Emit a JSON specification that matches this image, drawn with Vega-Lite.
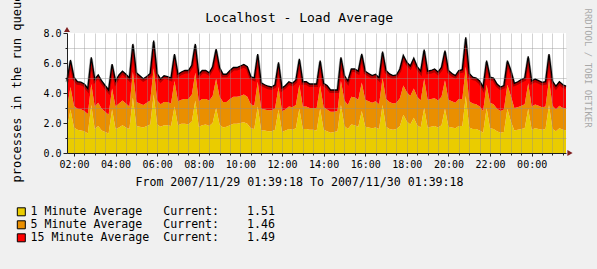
{
  "$schema": "https://vega.github.io/schema/vega-lite/v6.json",
  "width": 499,
  "height": 120,
  "autosize": {"type": "none"},
  "padding": {"left": 67, "top": 33, "right": 31, "bottom": 116},
  "background": "#F0F0F0",
  "config": {
    "view": {"fill": "#FFFFFF", "stroke": null},
    "font": "DejaVu Sans Mono",
    "axis": {"labelFont": "DejaVu Sans Mono", "titleFont": "DejaVu Sans Mono", "labelColor": "#000000", "titleColor": "#000000", "titleFontWeight": "normal"}
  },
  "data": {"values": [
    {"t":"2007-11-29T01:40","one":1.6,"five":1.4,"fifteen":1.82},
    {"t":"2007-11-29T01:50","one":2.9,"five":1.5,"fifteen":1.8},
    {"t":"2007-11-29T02:00","one":1.7,"five":1.45,"fifteen":1.9},
    {"t":"2007-11-29T02:10","one":1.55,"five":1.4,"fifteen":1.8},
    {"t":"2007-11-29T02:20","one":1.5,"five":1.42,"fifteen":1.8},
    {"t":"2007-11-29T02:30","one":1.45,"five":1.35,"fifteen":1.8},
    {"t":"2007-11-29T02:40","one":1.3,"five":1.3,"fifteen":1.7},
    {"t":"2007-11-29T02:50","one":3.2,"five":1.4,"fifteen":1.78},
    {"t":"2007-11-29T03:00","one":1.6,"five":1.5,"fifteen":1.82},
    {"t":"2007-11-29T03:10","one":1.8,"five":1.55,"fifteen":1.85},
    {"t":"2007-11-29T03:20","one":1.5,"five":1.45,"fifteen":1.85},
    {"t":"2007-11-29T03:30","one":1.4,"five":1.35,"fifteen":1.75},
    {"t":"2007-11-29T03:40","one":1.3,"five":1.25,"fifteen":1.65},
    {"t":"2007-11-29T03:50","one":2.9,"five":1.4,"fifteen":1.63},
    {"t":"2007-11-29T04:00","one":1.6,"five":1.5,"fifteen":1.7},
    {"t":"2007-11-29T04:10","one":1.7,"five":1.6,"fifteen":1.9},
    {"t":"2007-11-29T04:20","one":1.85,"five":1.65,"fifteen":1.95},
    {"t":"2007-11-29T04:30","one":1.7,"five":1.6,"fifteen":1.95},
    {"t":"2007-11-29T04:40","one":1.6,"five":1.5,"fifteen":1.9},
    {"t":"2007-11-29T04:50","one":3.7,"five":1.7,"fifteen":1.87},
    {"t":"2007-11-29T05:00","one":1.8,"five":1.6,"fifteen":1.95},
    {"t":"2007-11-29T05:10","one":1.75,"five":1.55,"fifteen":1.85},
    {"t":"2007-11-29T05:20","one":1.7,"five":1.5,"fifteen":1.75},
    {"t":"2007-11-29T05:30","one":1.8,"five":1.55,"fifteen":1.75},
    {"t":"2007-11-29T05:40","one":1.9,"five":1.6,"fifteen":1.8},
    {"t":"2007-11-29T05:50","one":3.9,"five":1.75,"fifteen":1.84},
    {"t":"2007-11-29T06:00","one":1.9,"five":1.6,"fifteen":1.8},
    {"t":"2007-11-29T06:10","one":1.75,"five":1.5,"fifteen":1.68},
    {"t":"2007-11-29T06:20","one":1.85,"five":1.55,"fifteen":1.75},
    {"t":"2007-11-29T06:30","one":1.85,"five":1.55,"fifteen":1.7},
    {"t":"2007-11-29T06:40","one":1.8,"five":1.5,"fifteen":1.7},
    {"t":"2007-11-29T06:50","one":3.1,"five":1.7,"fifteen":1.8},
    {"t":"2007-11-29T07:00","one":1.85,"five":1.6,"fifteen":1.8},
    {"t":"2007-11-29T07:10","one":1.95,"five":1.6,"fifteen":1.85},
    {"t":"2007-11-29T07:20","one":1.95,"five":1.65,"fifteen":1.9},
    {"t":"2007-11-29T07:30","one":1.9,"five":1.7,"fifteen":1.9},
    {"t":"2007-11-29T07:40","one":2.1,"five":1.8,"fifteen":1.95},
    {"t":"2007-11-29T07:50","one":3.5,"five":1.85,"fifteen":1.92},
    {"t":"2007-11-29T08:00","one":1.75,"five":1.7,"fifteen":1.8},
    {"t":"2007-11-29T08:10","one":1.85,"five":1.75,"fifteen":1.9},
    {"t":"2007-11-29T08:20","one":1.9,"five":1.7,"fifteen":1.9},
    {"t":"2007-11-29T08:30","one":1.8,"five":1.7,"fifteen":1.85},
    {"t":"2007-11-29T08:40","one":2.0,"five":1.8,"fifteen":1.95},
    {"t":"2007-11-29T08:50","one":3.0,"five":1.95,"fifteen":1.98},
    {"t":"2007-11-29T09:00","one":1.9,"five":1.85,"fifteen":1.95},
    {"t":"2007-11-29T09:10","one":1.7,"five":1.7,"fifteen":1.85},
    {"t":"2007-11-29T09:20","one":1.75,"five":1.65,"fifteen":1.85},
    {"t":"2007-11-29T09:30","one":1.85,"five":1.75,"fifteen":1.9},
    {"t":"2007-11-29T09:40","one":1.95,"five":1.8,"fifteen":1.95},
    {"t":"2007-11-29T09:50","one":1.95,"five":1.8,"fifteen":1.95},
    {"t":"2007-11-29T10:00","one":2.0,"five":1.8,"fifteen":2.0},
    {"t":"2007-11-29T10:10","one":2.05,"five":1.85,"fifteen":2.0},
    {"t":"2007-11-29T10:20","one":1.95,"five":1.8,"fifteen":2.0},
    {"t":"2007-11-29T10:30","one":1.65,"five":1.6,"fifteen":1.85},
    {"t":"2007-11-29T10:40","one":1.6,"five":1.55,"fifteen":1.85},
    {"t":"2007-11-29T10:50","one":3.1,"five":1.65,"fifteen":1.85},
    {"t":"2007-11-29T11:00","one":1.5,"five":1.45,"fifteen":1.73},
    {"t":"2007-11-29T11:10","one":1.5,"five":1.4,"fifteen":1.65},
    {"t":"2007-11-29T11:20","one":1.45,"five":1.4,"fifteen":1.6},
    {"t":"2007-11-29T11:30","one":1.45,"five":1.4,"fifteen":1.55},
    {"t":"2007-11-29T11:40","one":1.55,"five":1.42,"fifteen":1.58},
    {"t":"2007-11-29T11:50","one":2.9,"five":1.5,"fifteen":1.64},
    {"t":"2007-11-29T12:00","one":1.4,"five":1.38,"fifteen":1.55},
    {"t":"2007-11-29T12:10","one":1.5,"five":1.4,"fifteen":1.6},
    {"t":"2007-11-29T12:20","one":1.6,"five":1.5,"fifteen":1.65},
    {"t":"2007-11-29T12:30","one":1.55,"five":1.5,"fifteen":1.6},
    {"t":"2007-11-29T12:40","one":1.65,"five":1.55,"fifteen":1.65},
    {"t":"2007-11-29T12:50","one":2.95,"five":1.6,"fifteen":1.72},
    {"t":"2007-11-29T13:00","one":1.6,"five":1.5,"fifteen":1.65},
    {"t":"2007-11-29T13:10","one":1.6,"five":1.5,"fifteen":1.65},
    {"t":"2007-11-29T13:20","one":1.55,"five":1.45,"fifteen":1.6},
    {"t":"2007-11-29T13:30","one":1.55,"five":1.45,"fifteen":1.6},
    {"t":"2007-11-29T13:40","one":1.5,"five":1.5,"fifteen":1.6},
    {"t":"2007-11-29T13:50","one":2.95,"five":1.55,"fifteen":1.66},
    {"t":"2007-11-29T14:00","one":1.55,"five":1.5,"fifteen":1.6},
    {"t":"2007-11-29T14:10","one":1.45,"five":1.45,"fifteen":1.6},
    {"t":"2007-11-29T14:20","one":1.35,"five":1.4,"fifteen":1.45},
    {"t":"2007-11-29T14:30","one":1.4,"five":1.35,"fifteen":1.45},
    {"t":"2007-11-29T14:40","one":1.45,"five":1.35,"fifteen":1.4},
    {"t":"2007-11-29T14:50","one":3.2,"five":1.6,"fifteen":1.58},
    {"t":"2007-11-29T15:00","one":1.8,"five":1.7,"fifteen":1.66},
    {"t":"2007-11-29T15:10","one":1.6,"five":1.6,"fifteen":1.6},
    {"t":"2007-11-29T15:20","one":1.9,"five":1.85,"fifteen":1.85},
    {"t":"2007-11-29T15:30","one":1.85,"five":1.85,"fifteen":1.9},
    {"t":"2007-11-29T15:40","one":1.75,"five":1.8,"fifteen":1.9},
    {"t":"2007-11-29T15:50","one":2.8,"five":1.9,"fifteen":1.9},
    {"t":"2007-11-29T16:00","one":1.75,"five":1.8,"fifteen":1.9},
    {"t":"2007-11-29T16:10","one":1.7,"five":1.75,"fifteen":1.85},
    {"t":"2007-11-29T16:20","one":1.65,"five":1.7,"fifteen":1.81},
    {"t":"2007-11-29T16:30","one":1.7,"five":1.75,"fifteen":1.8},
    {"t":"2007-11-29T16:40","one":1.6,"five":1.65,"fifteen":1.75},
    {"t":"2007-11-29T16:50","one":3.2,"five":1.8,"fifteen":1.76},
    {"t":"2007-11-29T17:00","one":1.75,"five":1.85,"fifteen":1.9},
    {"t":"2007-11-29T17:10","one":1.6,"five":1.8,"fifteen":1.87},
    {"t":"2007-11-29T17:20","one":1.55,"five":1.75,"fifteen":1.86},
    {"t":"2007-11-29T17:30","one":1.6,"five":1.75,"fifteen":1.85},
    {"t":"2007-11-29T17:40","one":1.8,"five":1.85,"fifteen":1.95},
    {"t":"2007-11-29T17:50","one":2.55,"five":1.95,"fifteen":1.99},
    {"t":"2007-11-29T18:00","one":2.1,"five":1.95,"fifteen":2.0},
    {"t":"2007-11-29T18:10","one":1.9,"five":1.9,"fifteen":2.0},
    {"t":"2007-11-29T18:20","one":2.35,"five":1.95,"fifteen":2.01},
    {"t":"2007-11-29T18:30","one":1.85,"five":1.9,"fifteen":2.0},
    {"t":"2007-11-29T18:40","one":1.7,"five":1.8,"fifteen":1.95},
    {"t":"2007-11-29T18:50","one":3.0,"five":1.95,"fifteen":1.94},
    {"t":"2007-11-29T19:00","one":1.7,"five":1.85,"fifteen":1.9},
    {"t":"2007-11-29T19:10","one":1.75,"five":1.85,"fifteen":1.9},
    {"t":"2007-11-29T19:20","one":1.8,"five":1.85,"fifteen":1.95},
    {"t":"2007-11-29T19:30","one":1.7,"five":1.8,"fifteen":1.9},
    {"t":"2007-11-29T19:40","one":1.85,"five":1.9,"fifteen":1.95},
    {"t":"2007-11-29T19:50","one":2.95,"five":1.9,"fifteen":1.97},
    {"t":"2007-11-29T20:00","one":1.75,"five":1.8,"fifteen":1.95},
    {"t":"2007-11-29T20:10","one":1.7,"five":1.75,"fifteen":1.85},
    {"t":"2007-11-29T20:20","one":1.65,"five":1.7,"fifteen":1.81},
    {"t":"2007-11-29T20:30","one":1.8,"five":1.8,"fifteen":1.9},
    {"t":"2007-11-29T20:40","one":1.8,"five":1.8,"fifteen":1.95},
    {"t":"2007-11-29T20:50","one":3.8,"five":1.95,"fifteen":1.96},
    {"t":"2007-11-29T21:00","one":1.7,"five":1.75,"fifteen":1.85},
    {"t":"2007-11-29T21:10","one":1.6,"five":1.7,"fifteen":1.75},
    {"t":"2007-11-29T21:20","one":1.6,"five":1.65,"fifteen":1.75},
    {"t":"2007-11-29T21:30","one":1.5,"five":1.6,"fifteen":1.7},
    {"t":"2007-11-29T21:40","one":1.35,"five":1.45,"fifteen":1.6},
    {"t":"2007-11-29T21:50","one":3.0,"five":1.55,"fifteen":1.61},
    {"t":"2007-11-29T22:00","one":1.65,"five":1.7,"fifteen":1.7},
    {"t":"2007-11-29T22:10","one":1.6,"five":1.65,"fifteen":1.75},
    {"t":"2007-11-29T22:20","one":1.45,"five":1.5,"fifteen":1.65},
    {"t":"2007-11-29T22:30","one":1.35,"five":1.45,"fifteen":1.6},
    {"t":"2007-11-29T22:40","one":1.4,"five":1.5,"fifteen":1.6},
    {"t":"2007-11-29T22:50","one":2.95,"five":1.6,"fifteen":1.61},
    {"t":"2007-11-29T23:00","one":2.1,"five":1.7,"fifteen":1.7},
    {"t":"2007-11-29T23:10","one":1.5,"five":1.5,"fifteen":1.65},
    {"t":"2007-11-29T23:20","one":1.55,"five":1.5,"fifteen":1.7},
    {"t":"2007-11-29T23:30","one":1.6,"five":1.55,"fifteen":1.75},
    {"t":"2007-11-29T23:40","one":1.65,"five":1.6,"fifteen":1.75},
    {"t":"2007-11-29T23:50","one":2.95,"five":1.7,"fifteen":1.79},
    {"t":"2007-11-30T00:00","one":1.55,"five":1.55,"fifteen":1.7},
    {"t":"2007-11-30T00:10","one":1.65,"five":1.58,"fifteen":1.7},
    {"t":"2007-11-30T00:20","one":1.6,"five":1.55,"fifteen":1.67},
    {"t":"2007-11-30T00:30","one":1.55,"five":1.5,"fifteen":1.66},
    {"t":"2007-11-30T00:40","one":1.6,"five":1.5,"fifteen":1.65},
    {"t":"2007-11-30T00:50","one":3.2,"five":1.7,"fifteen":1.7},
    {"t":"2007-11-30T01:00","one":1.6,"five":1.55,"fifteen":1.65},
    {"t":"2007-11-30T01:10","one":1.45,"five":1.45,"fifteen":1.55},
    {"t":"2007-11-30T01:20","one":1.65,"five":1.5,"fifteen":1.6},
    {"t":"2007-11-30T01:30","one":1.55,"five":1.45,"fifteen":1.55},
    {"t":"2007-11-30T01:39","one":1.51,"five":1.46,"fifteen":1.49}
  ]},
  "layer": [
    {
      "transform": [{"fold": ["one", "five", "fifteen"], "as": ["series", "value"]}],
      "mark": {"type": "area"},
      "encoding": {
        "x": {"field": "t", "type": "temporal",
          "axis": {"orient": "bottom", "tickCount": 48, "labels": false, "domain": false, "tickSize": 2, "tickColor": "#1F1F1F", "gridColor": "#8F8F8F", "gridOpacity": 0.4, "title": null, "zindex": 1}},
        "y": {"field": "value", "type": "quantitative", "stack": "zero",
          "scale": {"domain": [0, 8], "nice": false},
          "axis": {"orient": "left", "values": [1, 3, 5, 7], "labels": false, "domain": false, "tickSize": 2, "tickColor": "#1F1F1F", "gridColor": "#8F8F8F", "gridOpacity": 0.4, "title": null, "zindex": 1}},
        "color": {"field": "series", "type": "nominal",
          "scale": {"domain": ["one", "five", "fifteen"], "range": ["#EACC00", "#EA8F00", "#FF0000"]},
          "legend": {"orient": "none", "legendX": -51.5, "legendY": 173, "title": null, "symbolType": "square", "symbolSize": 64, "symbolStrokeColor": "#000000", "symbolStrokeWidth": 1, "labelFont": "DejaVu Sans Mono", "labelFontSize": 11.6, "labelColor": "#000000", "labelOffset": 3.5, "rowPadding": 0, "labelLimit": 400,
            "labelExpr": "datum.label == 'one' ? '1 Minute Average\u00a0\u00a0\u00a0Current:\u00a0\u00a0\u00a0\u00a01.51' : datum.label == 'five' ? '5 Minute Average\u00a0\u00a0\u00a0Current:\u00a0\u00a0\u00a0\u00a01.46' : '15 Minute Average\u00a0\u00a0Current:\u00a0\u00a0\u00a0\u00a01.49'"}}
      }
    },
    {
      "transform": [{"fold": ["one", "five", "fifteen"], "as": ["series", "value"]}],
      "mark": {"type": "line", "color": "#000000", "opacity": 0.3, "strokeWidth": 3, "yOffset": 1.5},
      "encoding": {
        "x": {"field": "t", "type": "temporal",
          "axis": {"orient": "top", "labels": false, "ticks": false, "domain": false, "grid": false, "title": "Localhost - Load Average", "titleFontSize": 13, "titleX": 231.7, "titleY": -12, "titleAlign": "center", "titleBaseline": "alphabetic"}},
        "y": {"aggregate": "sum", "field": "value", "type": "quantitative",
          "axis": {"orient": "right", "title": "RRDTOOL / TOBI OETIKER", "labels": false, "ticks": false, "domain": false, "grid": false, "titleAngle": 90, "titleFontSize": 9, "titleLimit": 300, "titleColor": "#A8A8A8", "titleAlign": "left", "titleBaseline": "bottom", "titleX": 16, "titleY": -25}}
      }
    },
    {
      "transform": [{"fold": ["one", "five", "fifteen"], "as": ["series", "value"]}],
      "mark": {"type": "line", "color": "#000000", "strokeWidth": 1.3},
      "encoding": {
        "x": {"field": "t", "type": "temporal",
          "axis": {"orient": "bottom", "values": [1196301600000, 1196308800000, 1196316000000, 1196323200000, 1196330400000, 1196337600000, 1196344800000, 1196352000000, 1196359200000, 1196366400000, 1196373600000, 1196380800000], "format": "%H:%M", "labelFontSize": 10, "labelPadding": 3, "tickSize": 3, "tickColor": "#1F1F1F", "domainColor": "#1F1F1F", "gridColor": "#DE4F4F", "gridOpacity": 0.45, "labelFlush": false, "labelOverlap": false,
            "title": "From 2007/11/29 01:39:18 To 2007/11/30 01:39:18", "titleFontSize": 11.6, "titleX": 232, "titleY": 32, "titleAlign": "center", "titleBaseline": "alphabetic", "zindex": 1}},
        "y": {"aggregate": "sum", "field": "value", "type": "quantitative",
          "axis": {"orient": "left", "values": [0, 2, 4, 6, 8], "format": ".1f", "labelFontSize": 10, "labelPadding": 2, "tickSize": 4, "tickColor": "#1F1F1F", "domainColor": "#1F1F1F", "gridColor": "#DE4F4F", "gridOpacity": 0.45,
            "title": "processes in the run queue", "titleFontSize": 12, "titleAngle": -90, "titleX": -46.5, "titleY": 55, "titleAlign": "center", "titleBaseline": "alphabetic", "zindex": 1}}
      }
    },
    {
      "data": {"values": [{"t": "2007-11-30T01:39", "v": 0}]},
      "mark": {"type": "point", "shape": "triangle-right", "filled": true, "size": 36, "color": "#7F1F1F", "opacity": 1, "xOffset": 4},
      "encoding": {
        "x": {"field": "t", "type": "temporal", "axis": null},
        "y": {"field": "v", "type": "quantitative", "axis": null}
      }
    },
    {
      "data": {"values": [{"t": "2007-11-29T01:40", "v": 8}]},
      "mark": {"type": "point", "shape": "triangle-up", "filled": true, "size": 36, "color": "#7F1F1F", "opacity": 1, "yOffset": -3.5},
      "encoding": {
        "x": {"field": "t", "type": "temporal", "axis": null},
        "y": {"field": "v", "type": "quantitative", "axis": null}
      }
    }
  ],
  "resolve": {"axis": {"x": "independent", "y": "independent"}}
}
